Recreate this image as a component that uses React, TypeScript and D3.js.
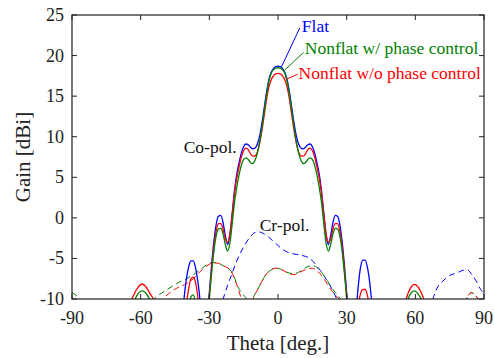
import React from "react";
import * as d3 from "d3";

// ---------- data ----------
const xTicks = [-90, -60, -30, 0, 30, 60, 90];
const yTicks = [-10, -5, 0, 5, 10, 15, 20, 25];

// co-pol theta grid (deg)
const coTheta = [
  -90, -87, -84, -80, -70, -66, -64, -63, -61, -59.5, -58, -56, -54, -52, -48,
  -44, -42, -41, -40, -39, -38, -37, -36, -35, -34, -33, -32.5, -32, -31, -30,
  -29, -28, -27, -26, -25, -24, -23, -22, -21, -20, -19, -18, -17, -16, -15,
  -14, -13, -12, -11, -10, -9, -8, -7, -6, -5, -4, -3, -2, -1,
  0,
  1, 2, 3, 4, 5, 6, 7, 8, 9, 10, 11, 12, 13, 14, 15, 16, 17, 18, 19, 20,
  21, 22, 23, 24, 25, 26, 27, 28, 29, 30, 31, 32, 32.5, 33, 34, 35, 36, 37,
  38, 39, 40, 41, 42, 44, 48, 52, 54, 56, 58, 59.5, 61, 63, 64, 66, 70, 80,
  84, 87, 90,
];

// Flat, co-pol (dBi)
const flatCo = [
  -30, -30, -30, -30, -30, -30, -30, -30, -30, -30, -30, -30, -30, -30, -30,
  -22, -12.8, -9.8, -7.5, -6.0, -5.3, -5.3, -6.2, -7.9, -10.4, -15, -30, -16, -12.8, -9.2,
  -5.8, -2.9, -0.8, 0.2, 0.3, -0.6, -2.2, -3.3, -2.0, 0.6, 3.4, 5.4, 6.8, 8.0, 8.8,
  9.1, 9.0, 8.7, 8.5, 8.6, 9.1, 10.1, 11.7, 13.6, 15.5, 17.0, 17.9, 18.4, 18.65,
  18.7,
  18.65, 18.4, 17.9, 17.0, 15.5, 13.6, 11.7, 10.1, 9.1, 8.6, 8.5, 8.7, 9.0, 9.1, 8.8,
  8.0, 6.8, 5.4, 3.4, 0.6, -2.0, -3.3, -2.2, -0.6, 0.3, 0.2, -0.8, -2.9, -5.8, -9.2,
  -12.8, -16, -30, -16, -12, -8.6, -6.2, -5.2, -5.2, -6.0, -7.8, -10.5, -13, -22, -30,
  -30, -30, -30, -30, -30, -30, -30, -30, -30, -30, -30, -30, -30, -30,
];

// Nonflat w/ phase control, co-pol
const nonflatPcCo = [
  -30, -30, -30, -30, -30, -16, -11.8, -10.5, -9.3, -9.0, -9.2, -10.1, -11.8, -16, -30,
  -30, -30, -20, -15, -11.5, -9.7, -9.5, -10.6, -13, -17, -22, -30, -20, -14, -10.0,
  -6.8, -4.1, -2.2, -1.35, -1.3, -2.0, -3.3, -4.1, -3.1, -0.7, 1.9, 3.8, 5.3, 6.5, 7.2,
  7.4, 7.2, 6.8, 6.7, 7.1, 8.0, 9.4, 11.2, 13.2, 15.2, 16.8, 17.8, 18.25, 18.45,
  18.5,
  18.45, 18.25, 17.8, 16.8, 15.2, 13.2, 11.2, 9.4, 8.0, 7.1, 6.7, 6.8, 7.2, 7.4, 7.2,
  6.5, 5.3, 3.8, 1.9, -0.7, -3.1, -4.1, -3.3, -2.0, -1.3, -1.35, -2.2, -4.1, -6.8, -10.0,
  -14, -20, -30, -25, -20, -16, -13.5, -12.5, -12.5, -13.5, -16, -20, -25, -30, -30,
  -16, -12.5, -10.6, -9.3, -9.0, -9.3, -10.3, -11.2, -16, -30, -30, -30, -30, -30,
];

// Nonflat w/o phase control, co-pol
const nonflatNoPcCo = [
  -30, -30, -30, -30, -30, -14, -10.2, -9.5, -8.5, -8.15, -8.4, -9.3, -10.4, -14, -30,
  -30, -16, -13, -10.6, -8.7, -7.5, -7.3, -8.0, -9.8, -12.5, -17, -30, -18, -13.5, -9.6,
  -6.3, -3.5, -1.6, -0.7, -0.7, -1.4, -2.6, -3.0, -2.0, 0.4, 3.0, 4.9, 6.3, 7.5, 8.3,
  8.6, 8.4, 7.9, 7.6, 7.65, 8.1, 9.2, 10.8, 12.7, 14.6, 16.1, 17.0, 17.5, 17.75,
  17.8,
  17.75, 17.5, 17.0, 16.1, 14.6, 12.7, 10.8, 9.2, 8.1, 7.65, 7.6, 7.9, 8.4, 8.6, 8.3,
  7.5, 6.3, 4.9, 3.0, 0.4, -2.0, -3.0, -2.6, -1.4, -0.7, -0.7, -1.6, -3.5, -6.3, -9.6,
  -13.5, -18, -30, -20, -14, -11, -9.4, -8.85, -8.8, -9.5, -11, -14, -18, -30, -30,
  -16, -12.5, -10.0, -8.6, -8.2, -8.45, -9.5, -10.3, -14, -30, -30, -30, -30, -30,
];

// cross-pol [theta, gain]
const flatCr: [number, number][] = [
  [-90, -30], [-30, -30], [-26, -11.5], [-24, -10], [-22, -8.3], [-20, -6.8],
  [-18, -5.3], [-16, -4.1], [-14, -3.1], [-12, -2.3], [-10, -1.8], [-8, -1.75],
  [-6, -2.0], [-4, -2.4], [-2, -2.9], [0, -3.4], [2, -3.9], [4, -4.2], [6, -4.4],
  [8, -4.5], [10, -4.6], [12, -4.75], [14, -5.0], [16, -5.6], [18, -6.3], [20, -7.1],
  [22, -8.0], [24, -9.0], [25.5, -9.9], [27, -11], [30, -30], [64, -30], [66, -12],
  [67.7, -10], [70, -8.4], [72, -7.8], [75, -7.1], [78, -6.8], [81, -6.45],
  [82.5, -6.4], [85, -7.1], [87, -8.0], [88.5, -8.8], [90, -9.3],
];

const nonflatPcCr: [number, number][] = [
  [-90, -9.2], [-88, -9.6], [-86.5, -10], [-85, -11], [-80, -30], [-60, -30],
  [-56, -11.5], [-54, -10], [-51, -9.3], [-48.8, -8.9], [-46, -8.4], [-43, -7.9],
  [-40, -7.5], [-37, -7.0], [-34, -6.4], [-31.3, -5.8], [-28.4, -5.5], [-26, -5.6],
  [-24, -5.9], [-21, -6.4], [-19.7, -6.9], [-17.5, -8.5], [-15.5, -9.4], [-13.8, -10],
  [-12.4, -12], [-10.9, -10], [-9, -8.9], [-7, -7.8], [-5, -6.9], [-3, -6.4],
  [-1, -6.2], [1, -6.3], [3, -6.6], [5, -6.8], [7, -6.9], [9, -6.7], [11, -6.3],
  [13, -6.0], [15, -5.9], [17, -6.1], [19, -6.7], [21, -7.5], [23, -8.4], [25, -9.2],
  [27, -9.9], [28.5, -11], [32, -30], [78, -30], [81, -11], [82.3, -10], [84.5, -9.2],
  [86, -9.5], [87.4, -10], [89, -11], [90, -11.5],
];

const nonflatNoPcCr: [number, number][] = [
  [-90, -9.8], [-88.5, -10.3], [-86, -12], [-80, -30], [-56, -30], [-52, -11],
  [-50.2, -10], [-48, -9.4], [-44.4, -8.7], [-40, -8.1], [-37, -7.5], [-34, -6.6],
  [-31, -5.9], [-28.4, -5.55], [-26, -5.6], [-24, -5.9], [-21, -6.4], [-18.2, -8.1],
  [-16, -10], [-14.5, -11.5], [-12.5, -12], [-10.9, -10], [-9, -8.9], [-7, -7.8],
  [-5, -6.9], [-3, -6.4], [-1, -6.2], [1, -6.3], [3, -6.6], [5, -6.9], [7, -7.0],
  [9, -6.8], [11, -6.5], [13, -6.3], [15, -6.2], [17, -6.5], [19, -7.1], [21, -7.9],
  [23, -8.8], [25, -9.5], [27, -10.2], [29, -12], [32, -30], [78, -30], [81, -11],
  [82.3, -10], [84.5, -9.25], [86, -9.5], [87.4, -10], [89, -11], [90, -11.5],
];

const seriesNames = ["Flat", "Nonflat w/ phase control", "Nonflat w/o phase control"];
const seriesColors = ["#0000ff", "#008000", "#ff0000"];

// annotation anchors in data units: [thetaFrom, gainFrom, thetaTo, gainTo]
const pointers: [number, number, number, number][] = [
  [1.5, 18.6, 9.5, 23.4],
  [2.9, 18.2, 11.2, 20.4],
  [3.8, 17.1, 8.6, 17.7],
];
const labelPos: [number, number][] = [
  [10.4, 22.9],
  [11.7, 20.2],
  [9.0, 17.1],
];
const polLabels = ["Co-pol.", "Cr-pol."];
const polLabelPos: [number, number][] = [
  [-41.2, 8.0],
  [-8.0, -1.6],
];

// ---------- chart ----------
const W = 495;
const H = 358;
const L = 72, R = 484, T = 15, B = 299;
const FONT = "Liberation Serif";
const txt = { fontFamily: FONT };

export default function App() {
  const x = d3.scaleLinear().domain([-90, 90]).range([L, R]);
  const y = d3.scaleLinear().domain([-10, 25]).range([B, T]);
  const line = d3
    .line<[number, number]>()
    .x((d) => x(d[0]))
    .y((d) => y(d[1]))
    .curve(d3.curveMonotoneX);

  const coSeries = [flatCo, nonflatPcCo, nonflatNoPcCo].map((g) =>
    coTheta.map((t, i) => [t, g[i]] as [number, number])
  );
  const crSeries = [flatCr, nonflatPcCr, nonflatNoPcCr];
  const tick = 5;

  return (
    <svg
      width={W}
      height={H}
      style={{ position: "absolute", left: 0, top: 0, background: "#fff" }}
    >
      <defs>
        <clipPath id="plot">
          <rect x={L} y={T} width={R - L} height={B - T} />
        </clipPath>
      </defs>
      <rect x={0} y={0} width={W} height={H} fill="#fff" />

      <g clipPath="url(#plot)" fill="none">
        {crSeries.map((d, i) => (
          <path
            key={"cr" + i}
            d={line(d) || ""}
            stroke={seriesColors[i]}
            strokeWidth={1}
            strokeDasharray="6,4"
          />
        ))}
        {[0, 2, 1].map((i) => (
          <path
            key={"co" + i}
            d={line(coSeries[i]) || ""}
            stroke={seriesColors[i]}
            strokeWidth={1.3}
          />
        ))}
      </g>

      {/* frame */}
      <rect x={L} y={T} width={R - L} height={B - T} fill="none" stroke="#222" strokeWidth={1.2} />
      {xTicks.map((t) => (
        <g key={"xt" + t}>
          <line x1={x(t)} x2={x(t)} y1={B} y2={B - tick} stroke="#222" />
          <line x1={x(t)} x2={x(t)} y1={T} y2={T + tick} stroke="#222" />
          <text x={x(t)} y={324} fontSize={18} textAnchor="middle" fill="#222" style={txt}>
            {t}
          </text>
        </g>
      ))}
      {yTicks.map((t) => (
        <g key={"yt" + t}>
          <line x1={L} x2={L + tick} y1={y(t)} y2={y(t)} stroke="#222" />
          <line x1={R} x2={R - tick} y1={y(t)} y2={y(t)} stroke="#222" />
          <text x={64} y={y(t) + 6} fontSize={18} textAnchor="end" fill="#222" style={txt}>
            {t}
          </text>
        </g>
      ))}
      <text x={(L + R) / 2} y={350} fontSize={21} textAnchor="middle" fill="#222" style={txt}>
        Theta [deg.]
      </text>
      <text
        transform={`translate(30, ${(T + B) / 2}) rotate(-90)`}
        fontSize={21}
        textAnchor="middle"
        fill="#222"
        style={txt}
      >
        Gain [dBi]
      </text>

      {/* annotations */}
      {pointers.map((p, i) => (
        <line
          key={"pt" + i}
          x1={x(p[0])}
          y1={y(p[1])}
          x2={x(p[2])}
          y2={y(p[3])}
          stroke={seriesColors[i]}
          strokeWidth={1}
        />
      ))}
      {seriesNames.map((n, i) => (
        <text key={"lb" + i} x={x(labelPos[i][0])} y={y(labelPos[i][1])} fontSize={17.5} fill={seriesColors[i]} style={txt}>
          {n}
        </text>
      ))}
      {polLabels.map((n, i) => (
        <text key={"pl" + i} x={x(polLabelPos[i][0])} y={y(polLabelPos[i][1])} fontSize={17.5} fill="#111" style={txt}>
          {n}
        </text>
      ))}
    </svg>
  );
}
